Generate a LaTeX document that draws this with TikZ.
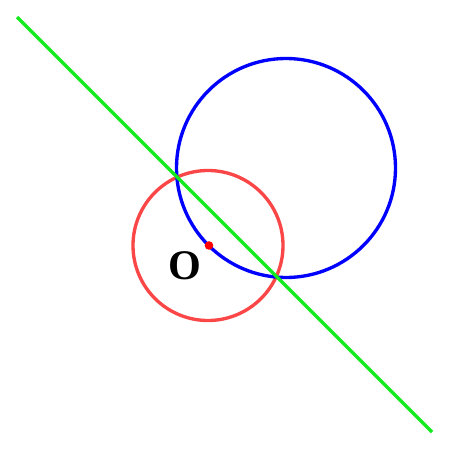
\documentclass[tikz,border=0pt]{standalone}
\usepackage{fontspec}
\setmainfont{Liberation Serif}
\usepackage{tikz}
\usetikzlibrary{calc}
\definecolor{lnred}{RGB}{250,70,70}
\definecolor{lngreen}{RGB}{20,235,30}

\begin{document}
\begin{tikzpicture}[
  x=0.02cm, y=-0.02cm,
  curve/.style={line width=1.9pt},
  lbl/.style={font=\fontsize{24}{28}\selectfont\bfseries, inner sep=0pt},
]
\useasboundingbox (0,0) rectangle (450,450);
\coordinate (O) at (209,245.5);
\coordinate (C) at (286,168);
\coordinate (A) at (17,17);
\coordinate (B) at (432,432);
\draw[curve, lnred] (208,245.5) circle (75);
\draw[curve, blue] (C) circle (109.5);
\draw[curve, lngreen] (A) -- (B);
\fill[red] (O) circle (4.3);
\node[lbl] (olabel) at (185,266) {O};
\end{tikzpicture}
\end{document}
